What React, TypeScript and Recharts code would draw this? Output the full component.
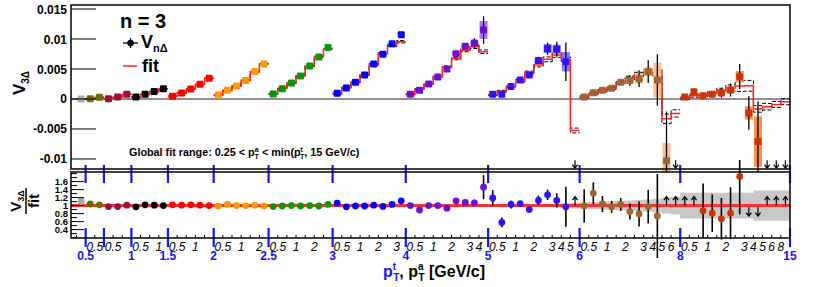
import React from "react";
import { ComposedChart, Scatter, Line, Area, XAxis, YAxis, ErrorBar, ReferenceLine } from "recharts";

const FONT = "'Liberation Sans', Arial, Helvetica, sans-serif";
const BLUE = "#1414ff";

// pT bin edges (GeV/c). Trigger bin k holds k associated bins (pT^a <= pT^t).
const ptEdges = ["0.25", "0.5", "0.75", "1", "1.5", "2", "2.5", "3", "4", "5", "6", "8", "15"];
const trigLabels = ["0.5", "1", "1.5", "2", "2.5", "3", "4", "5", "6", "8", "15"];
const assocLabels = ["0.5", "1", "2", "3", "4", "5", "6", "8"];

const segColors = ["#a8a8a8", "#6b6b00", "#99103d", "#000000", "#ff0000", "#ff9900", "#009900", "#0000ff", "#6c0fd0", "#3210ff", "#9c6632", "#cc3300"];
const segBoxColors = ["#d0d0d0", "#b8b870", "#d890a8", "#909090", "#ff9090", "#ffcc80", "#80cc80", "#8888ff", "#a878f0", "#8c70ff", "#f9c08c", "#ff8c50"];

// V3Δ per bin, units of 1e-3 (null = off scale)
const v3 = [
  0.0,
  0.05, 0.28,
  0.05, 0.33, 0.8,
  0.33, 0.8, 1.25, 1.7,
  0.45, 1.0, 1.67, 2.45, 3.45,
  0.67, 1.45, 2.17, 3.1, 4.6, 5.83,
  0.83, 1.72, 2.67, 3.83, 5.5, 7.0, 8.6,
  0.95, 1.83, 2.78, 4.0, 5.83, 7.45, 9.2, 10.7,
  0.78, 1.45, 2.5, 3.67, 5.0, 7.55, 8.78, 9.33, 11.5,
  0.78, 0.78, 2.1, 3.17, 4.0, 6.4, 8.4, 8.3, 6.2, null,
  0.33, 1.05, 1.45, 1.78, 2.78, 3.1, 3.38, 4.55, 3.17, -10.3, null,
  0.33, 1.22, 0.55, 0.78, 1.0, 1.5, 3.72, -2.33, -7.1, null, null, null,
];
const v3Stat = [
  0.1,
  0.08, 0.08,
  0.08, 0.08, 0.08,
  0.08, 0.08, 0.08, 0.1,
  0.08, 0.08, 0.1, 0.1, 0.1,
  0.1, 0.1, 0.1, 0.1, 0.12, 0.12,
  0.1, 0.1, 0.1, 0.12, 0.12, 0.15, 0.15,
  0.1, 0.1, 0.12, 0.12, 0.15, 0.15, 0.2, 0.25,
  0.1, 0.12, 0.15, 0.15, 0.2, 0.25, 0.4, 0.8, 2.3,
  0.15, 0.15, 0.2, 0.2, 0.3, 0.35, 1.0, 1.25, 3.2, 0,
  0.2, 0.2, 0.2, 0.25, 0.3, 0.9, 1.4, 1.9, 4.3, 8.2, 0,
  0.2, 0.25, 0.25, 0.3, 0.8, 1.1, 2.1, 2.8, 6.7, 0, 0, 0,
];
const v3Sys = [
  0,
  0, 0,
  0, 0, 0,
  0, 0, 0, 0,
  0, 0, 0, 0, 0,
  0, 0, 0, 0, 0, 0,
  0, 0, 0, 0, 0, 0, 0,
  0, 0, 0, 0, 0, 0, 0, 0,
  0, 0, 0, 0, 0, 0.2, 0.25, 0.3, 1.5,
  0, 0, 0, 0, 0.2, 0.3, 0.75, 0.75, 1.6, 0,
  0, 0, 0, 0, 0, 0.3, 0.8, 0.75, 2.9, 2.95, 0,
  0, 0, 0, 0, 0.2, 0.55, 0.95, 1.1, 4.2, 0, 0, 0,
];
// global fit, units of 1e-3, and its uncertainty
const fitVal = [
  0.0,
  0.05, 0.27,
  0.06, 0.34, 0.79,
  0.34, 0.79, 1.24, 1.7,
  0.44, 0.99, 1.64, 2.43, 3.45,
  0.68, 1.41, 2.17, 3.1, 4.55, 5.88,
  0.85, 1.74, 2.67, 3.86, 5.5, 7.07, 8.35,
  0.9, 1.89, 2.8, 4.04, 5.77, 7.6, 8.93, 9.55,
  0.78, 1.63, 2.5, 3.67, 5.35, 6.74, 8.13, 8.72, 7.88,
  0.65, 1.3, 2.04, 3.02, 4.44, 5.66, 6.61, 7.35, 6.6, -5.25,
  0.35, 0.85, 1.37, 1.82, 2.68, 3.5, 4.1, 4.5, 4.35, -3.3, -2.4,
  0.1, 0.55, 0.63, 0.96, 1.45, 1.85, 2.15, 2.2, -1.65, -1.28, -0.9, -0.45,
];
const fitErr = [
  0.05,
  0.05, 0.05,
  0.05, 0.05, 0.05,
  0.05, 0.05, 0.05, 0.05,
  0.05, 0.05, 0.05, 0.05, 0.05,
  0.05, 0.05, 0.05, 0.05, 0.08, 0.08,
  0.05, 0.05, 0.08, 0.08, 0.1, 0.1, 0.12,
  0.1, 0.1, 0.1, 0.1, 0.15, 0.15, 0.2, 0.2,
  0.1, 0.1, 0.1, 0.15, 0.15, 0.2, 0.25, 0.3, 0.3,
  0.1, 0.15, 0.15, 0.2, 0.2, 0.3, 0.4, 0.4, 0.4, 0.4,
  0.15, 0.15, 0.2, 0.2, 0.25, 0.3, 0.35, 0.4, 0.5, 0.8, 0.6,
  0.2, 0.25, 0.3, 0.3, 0.35, 0.5, 0.9, 0.9, 0.55, 0.55, 0.5, 0.5,
];
// V3Δ / fit
const ratio = [
  1.11,
  1.04, 1.02,
  0.975, 0.975, 1.01,
  0.97, 1.02, 1.01, 1.0,
  1.02, 1.01, 1.02, 1.01, 1.0,
  0.99, 1.03, 1.0, 1.0, 1.01, 0.99,
  0.975, 0.99, 1.0, 0.99, 1.0, 0.99, 1.03,
  1.06, 0.97, 0.99, 0.99, 1.01, 0.98, 1.03, 1.12,
  1.0, 0.89, 1.0, 1.0, 0.935, 1.12, 1.08, 1.07, 1.46,
  1.19, 0.58, 1.03, 1.05, 0.9, 1.13, 1.27, 1.13, 0.97, null,
  0.99, 1.31, 1.04, 0.97, 1.03, 0.85, 0.79, 0.975, 0.74, null, null,
  null, null, 0.87, 0.81, 0.67, 0.81, 1.73, null, null, null, null, null,
];
const ratioErr = [
  0.03,
  0.02, 0.02,
  0.02, 0.02, 0.02,
  0.02, 0.02, 0.02, 0.02,
  0.02, 0.02, 0.02, 0.02, 0.02,
  0.02, 0.02, 0.02, 0.02, 0.02, 0.02,
  0.02, 0.02, 0.02, 0.02, 0.02, 0.02, 0.02,
  0.02, 0.02, 0.02, 0.02, 0.02, 0.02, 0.03, 0.03,
  0.02, 0.03, 0.03, 0.03, 0.03, 0.04, 0.04, 0.08, 0.3,
  0.2, 0.12, 0.1, 0.05, 0.06, 0.12, 0.13, 0.18, 0.5, 0,
  0.42, 0.27, 0.2, 0.15, 0.16, 0.2, 0.31, 0.42, 1.05, 0, 0,
  0, 0, 0.68, 0.47, 0.52, 0.65, 0.95, 0, 0, 0, 0, 0,
];
// fit uncertainty band in the ratio panel (half width)
const ratioBand = [
  0.02,
  0.02, 0.02,
  0.02, 0.02, 0.02,
  0.02, 0.02, 0.02, 0.02,
  0.02, 0.02, 0.02, 0.02, 0.02,
  0.02, 0.02, 0.02, 0.02, 0.02, 0.02,
  0.02, 0.02, 0.02, 0.02, 0.02, 0.02, 0.02,
  0.02, 0.02, 0.02, 0.02, 0.02, 0.02, 0.02, 0.02,
  0.02, 0.02, 0.02, 0.02, 0.02, 0.02, 0.02, 0.02, 0.02,
  0.02, 0.02, 0.02, 0.02, 0.02, 0.02, 0.02, 0.04, 0.06, 0.07,
  0.08, 0.09, 0.1, 0.11, 0.12, 0.13, 0.14, 0.15, 0.17, 0.2, 0.22,
  0.32, 0.32, 0.32, 0.32, 0.32, 0.32, 0.32, 0.32, 0.38, 0.38, 0.38, 0.38,
];

// bins drawn as arrows (off scale)
const topArrowBins = [54, 65, 75, 76, 77];
const ratioUpBins = [54, 64, 65, 66, 67, 75, 76, 77];
const ratioDownBins = [73, 74];

const topTicks = [-0.01, -0.005, 0, 0.005, 0.01, 0.015];
const ratioTicks = [0.2, 0.3, 0.4, 0.5, 0.6, 0.7, 0.8, 0.9, 1, 1.1, 1.2, 1.3, 1.4, 1.5, 1.6, 1.7, 1.8];
const ratioLabels = ["0.4", "0.6", "0.8", "1", "1.2", "1.4", "1.6"];

const nBins = v3.length;
const X_DOMAIN: [number, number] = [-0.6, nBins];

const segments = ptEdges.slice(1).map((_, s) => ({
  k: s + 1,
  start: (s * (s + 1)) / 2,
  color: segColors[s],
  box: segBoxColors[s],
}));
const binsOf = (seg: { k: number; start: number }) => Array.from({ length: seg.k }, (_, j) => seg.start + j);

const topPoints = segments.map((seg) =>
  binsOf(seg)
    .filter((i) => v3[i] !== null)
    .map((i) => ({ x: i + 0.5, y: (v3[i] as number) / 1000, stat: v3Stat[i] / 1000, sys: v3Sys[i] / 1000 }))
);

const fitRows = segments.map((seg) => {
  const bins = binsOf(seg);
  const row = (x: number, i: number) => ({
    x,
    fit: fitVal[i] / 1000,
    hi: (fitVal[i] + fitErr[i]) / 1000,
    lo: (fitVal[i] - fitErr[i]) / 1000,
  });
  return [row(seg.start, bins[0]), ...bins.map((i) => row(i + 0.5, i)), row(seg.start + seg.k, bins[bins.length - 1])];
});

const ratioPoints = segments.map((seg) =>
  binsOf(seg)
    .filter((i) => ratio[i] !== null)
    .map((i) => ({ x: i + 0.5, r: ratio[i], err: ratioErr[i] }))
);

const bandRows = [
  { x: 0, band: [1 - ratioBand[0], 1 + ratioBand[0]] },
  ...ratioBand.map((b, i) => ({ x: i + 0.5, band: [1 - b, 1 + b] })),
  { x: nBins, band: [1 - ratioBand[nBins - 1], 1 + ratioBand[nBins - 1]] },
];

const topArrowRows = topArrowBins.map((i) => ({ x: i + 0.5, y: -0.0102 }));
const ratioUpRows = ratioUpBins.map((i) => ({ x: i + 0.5, r: 1.0 }));
const ratioDownRows = ratioDownBins.map((i) => ({ x: i + 0.5, r: 0.96 }));

// axis edge info: trigger boundaries (blue) and associated labels (italic)
const edgeInfo = new Map<number, { trig?: string; boundary?: boolean; assoc?: string }>();
segments.forEach((seg, s) => {
  const end = seg.start + seg.k;
  const lab = ptEdges[s + 1];
  edgeInfo.set(end, { boundary: true, trig: trigLabels.includes(lab) ? lab : "" });
  for (let j = 1; j < seg.k; j++) {
    if (assocLabels.includes(ptEdges[j])) edgeInfo.set(seg.start + j, { assoc: ptEdges[j] });
  }
});
const xTicks = Array.from({ length: nBins + 1 }, (_, c) => c);

const squareShape = (color: string) => (p: any) => (
  <rect x={p.cx - 3.5} y={p.cy - 3.5} width={7} height={7} rx={1.2} fill={color} />
);
const circleShape = (color: string) => (p: any) => <circle cx={p.cx} cy={p.cy} r={3.4} fill={color} />;
const arrowShape = (len: number) => (p: any) => {
  const d = len > 0 ? 1 : -1;
  const tip = p.cy + len;
  return (
    <path
      d={`M${p.cx},${p.cy} L${p.cx},${tip} M${p.cx - 2.6},${tip - d * 3.5} L${p.cx},${tip} L${p.cx + 2.6},${tip - d * 3.5}`}
      stroke="#000"
      strokeWidth={1.2}
      fill="none"
    />
  );
};

const TopYTick = (p: any) => (
  <g>
    <line x1={p.x} x2={p.x + 25} y1={p.y} y2={p.y} stroke="#000" strokeWidth={1} />
    <text x={p.x - 4} y={p.y + 4.5} textAnchor="end" fontSize={12} fontWeight="bold" fontFamily={FONT} fill="#000">
      {String(p.payload.value)}
    </text>
  </g>
);

const ratioLabelOf = (v: number) => ratioLabels.find((l) => Math.abs(parseFloat(l) - v) < 1e-6);

const RatioYTick = (p: any) => {
  const lab = ratioLabelOf(p.payload.value);
  return (
    <g>
      <line x1={p.x} x2={p.x + (lab ? 13 : 6)} y1={p.y} y2={p.y} stroke="#000" strokeWidth={1} />
      {lab && (
        <text x={p.x - 3} y={p.y + 3.5} textAnchor="end" fontSize={9.5} fontWeight="bold" fontFamily={FONT} fill="#000">
          {lab}
        </text>
      )}
    </g>
  );
};

const RatioYTickRight = (p: any) => {
  const lab = ratioLabelOf(p.payload.value);
  return <line x1={p.x} x2={p.x - (lab ? 13 : 6)} y1={p.y} y2={p.y} stroke="#000" strokeWidth={1} />;
};

const EdgeTick = (p: any) => {
  const { x, y } = p;
  const info = edgeInfo.get(p.payload.value);
  return (
    <g fontFamily={FONT}>
      <line x1={x} x2={x} y1={y} y2={y - 3} stroke="#000" strokeWidth={1} />
      {info?.boundary && (
        <g>
          <line x1={x} x2={x} y1={y - 10} y2={y + 9} stroke={BLUE} strokeWidth={2.2} />
          <line x1={x} x2={x} y1={y - 73} y2={y - 55} stroke={BLUE} strokeWidth={2.2} />
          {info.trig ? (
            <text x={x} y={y + 22} textAnchor="middle" fill={BLUE} fontWeight="bold" fontSize={12}>
              {info.trig}
            </text>
          ) : null}
        </g>
      )}
      {info?.assoc && (
        <text x={x} y={y + 13} textAnchor="middle" fontStyle="italic" fontSize={12} fill="#000">
          {info.assoc}
        </text>
      )}
    </g>
  );
};

function TopPanel() {
  return (
    <ComposedChart width={814} height={172} margin={{ top: 5, right: 24, bottom: 3, left: 0 }}>
      <XAxis type="number" dataKey="x" domain={X_DOMAIN} allowDataOverflow hide />
      <YAxis
        type="number"
        domain={[-0.01167, 0.01567]}
        ticks={topTicks}
        interval={0}
        allowDataOverflow
        width={71}
        tickSize={0}
        tickMargin={0}
        axisLine={false}
        tickLine={false}
        tick={(p: any) => <TopYTick {...p} />}
      />
      <ReferenceLine y={0} stroke="#222" strokeWidth={1.2} />
      {segments.flatMap((seg, s) => [
        <Line key={`lo${s}`} data={fitRows[s]} dataKey="lo" type="step" stroke="#000" strokeWidth={1} strokeDasharray="4 2" dot={false} activeDot={false} isAnimationActive={false} />,
        <Line key={`hi${s}`} data={fitRows[s]} dataKey="hi" type="step" stroke="#000" strokeWidth={1} strokeDasharray="4 2" dot={false} activeDot={false} isAnimationActive={false} />,
        <Line key={`f${s}`} data={fitRows[s]} dataKey="fit" type="step" stroke="#ff2020" strokeWidth={1.5} dot={false} activeDot={false} isAnimationActive={false} />,
      ])}
      {segments.map((seg, s) => (
        <Scatter key={`p${s}`} data={topPoints[s]} dataKey="y" fill={seg.color} shape={squareShape(seg.color)} isAnimationActive={false}>
          <ErrorBar dataKey="sys" direction="y" width={0} stroke={seg.box} strokeWidth={8} />
          <ErrorBar dataKey="stat" direction="y" width={0} stroke="#000" strokeWidth={1.3} />
        </Scatter>
      ))}
      <Scatter data={topArrowRows} dataKey="y" shape={arrowShape(8)} isAnimationActive={false} />
    </ComposedChart>
  );
}

function RatioPanel() {
  return (
    <ComposedChart width={814} height={127} margin={{ top: 12, right: 24, bottom: 0, left: 0 }}>
      <XAxis
        type="number"
        dataKey="x"
        domain={X_DOMAIN}
        allowDataOverflow
        ticks={xTicks}
        interval={0}
        height={49}
        tickSize={0}
        tickMargin={0}
        axisLine={false}
        tickLine={false}
        tick={(p: any) => <EdgeTick {...p} />}
      />
      <YAxis
        type="number"
        domain={[0.19, 1.84]}
        ticks={ratioTicks}
        interval={0}
        allowDataOverflow
        width={71}
        tickSize={0}
        tickMargin={0}
        axisLine={false}
        tickLine={false}
        tick={(p: any) => <RatioYTick {...p} />}
      />
      <YAxis
        yAxisId="right"
        orientation="right"
        type="number"
        domain={[0.19, 1.84]}
        ticks={ratioTicks}
        interval={0}
        allowDataOverflow
        width={0}
        tickSize={0}
        tickMargin={0}
        axisLine={false}
        tickLine={false}
        tick={(p: any) => <RatioYTickRight {...p} />}
      />
      <Area data={bandRows} dataKey="band" type="step" fill="#c8c8c8" fillOpacity={1} stroke="none" isAnimationActive={false} />
      <ReferenceLine y={1} stroke="#ff3030" strokeWidth={3} />
      {segments.map((seg, s) => (
        <Scatter key={`r${s}`} data={ratioPoints[s]} dataKey="r" fill={seg.color} shape={circleShape(seg.color)} isAnimationActive={false}>
          <ErrorBar dataKey="err" direction="y" width={0} stroke="#000" strokeWidth={1.6} />
        </Scatter>
      ))}
      <Scatter data={ratioUpRows} dataKey="r" shape={arrowShape(-9)} isAnimationActive={false} />
      <Scatter data={ratioDownRows} dataKey="r" shape={arrowShape(9)} isAnimationActive={false} />
    </ComposedChart>
  );
}

function Overlay() {
  return (
    <svg width={814} height={287} style={{ position: "absolute", left: 0, top: 0, pointerEvents: "none" }} fontFamily={FONT}>
      <rect x={71} y={5} width={719} height={164} fill="none" stroke="#111" strokeWidth={1.6} />
      <rect x={71} y={172} width={719} height={66} fill="none" stroke="#111" strokeWidth={1.6} />

      {/* legend */}
      <text x={120} y={28} fontSize={20} fontWeight="bold">n = 3</text>
      <line x1={123} x2={138} y1={43} y2={43} stroke="#000" strokeWidth={1.3} />
      <line x1={130.5} x2={130.5} y1={38} y2={48} stroke="#000" strokeWidth={1.3} />
      <circle cx={130.5} cy={43} r={3.2} fill="#000" />
      <text x={141} y={48} fontSize={18} fontWeight="bold">
        V<tspan fontSize={11} dy={4}>nΔ</tspan>
      </text>
      <line x1={123} x2={137} y1={66} y2={66} stroke="#ff2020" strokeWidth={1.5} />
      <text x={142} y={72} fontSize={18} fontWeight="bold">fit</text>

      <text x={129} y={156} fontSize={10.8} fontWeight="bold">
        Global fit range: 0.25 &lt; p<tspan fontSize={7} dy={-4}>a</tspan>
        <tspan fontSize={7} dx={-4} dy={7}>T</tspan>
        <tspan dy={-3}> &lt; min(p</tspan>
        <tspan fontSize={7} dy={-4}>t</tspan>
        <tspan fontSize={7} dx={-3} dy={7}>T</tspan>
        <tspan dy={-3}>,  15 GeV/c)</tspan>
      </text>

      {/* y titles */}
      <text transform="translate(25,83) rotate(-90)" textAnchor="middle" fontSize={17} fontWeight="bold">
        V<tspan fontSize={10} dy={4}>3Δ</tspan>
      </text>
      <g transform="translate(24,201) rotate(-90)">
        <text x={0} y={-3} textAnchor="middle" fontSize={15} fontWeight="bold">
          V<tspan fontSize={9} dy={3}>3Δ</tspan>
        </text>
        <line x1={-13} x2={13} y1={2} y2={2} stroke="#000" strokeWidth={1.5} />
        <text x={0} y={15} textAnchor="middle" fontSize={15} fontWeight="bold">fit</text>
      </g>

      {/* x title */}
      <text x={383} y={277} fontSize={16} fontWeight="bold">
        <tspan fill={BLUE}>p</tspan>
        <tspan fill={BLUE} fontSize={10} dy={-7}>t</tspan>
        <tspan fill={BLUE} fontSize={10} dx={-3} dy={11}>T</tspan>
        <tspan dy={-4}>, p</tspan>
        <tspan fontSize={10} dy={-7}>a</tspan>
        <tspan fontSize={10} dx={-5} dy={11}>T</tspan>
        <tspan dy={-4}> [GeV/c]</tspan>
      </text>
    </svg>
  );
}

export default function App() {
  return (
    <div style={{ position: "absolute", left: 0, top: 0, width: 814, height: 287, background: "#fff", fontFamily: FONT }}>
      <div style={{ position: "absolute", left: 0, top: 0 }}>
        <TopPanel />
      </div>
      <div style={{ position: "absolute", left: 0, top: 160 }}>
        <RatioPanel />
      </div>
      <Overlay />
    </div>
  );
}
